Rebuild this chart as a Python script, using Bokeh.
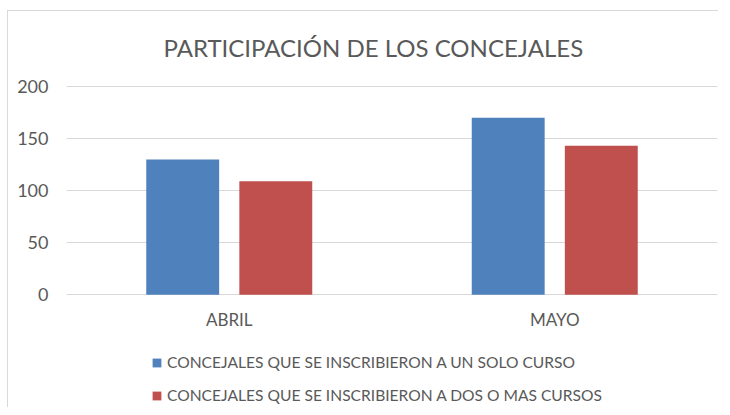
from bokeh.plotting import figure
from bokeh.models import FactorRange, Range1d, Legend, LegendItem
from bokeh.transform import dodge
from bokeh.embed import file_html
from bokeh.resources import INLINE

# ---- data ----
months = ["ABRIL", "MAYO"]
un_solo_curso = [130, 170]
dos_o_mas = [109, 143]
series_names = ["CONCEJALES QUE SE INSCRIBIERON A UN SOLO CURSO",
                "CONCEJALES QUE SE INSCRIBIERON A DOS O MAS CURSOS"]
title_text = "PARTICIPACIÓN DE LOS CONCEJALES"
y_ticks = [0, 50, 100, 150, 200]

FONT = "Lato"
TXT = "#595959"
GRID = "#D9D9D9"
BLUE = "#4F81BD"
RED = "#C0504D"

W, H = 722, 407
TOP, LEFT, RIGHT = 80, 66, 5
# pixel scale: 200 units over 208.3 px, zero line at 294.3 px from the top
px_per_unit = 208.3 / 200
y_top = (294.3 - TOP) / px_per_unit
y_bot = (294.3 - H) / px_per_unit

p = figure(x_range=FactorRange(*months, range_padding=0, factor_padding=0),
           y_range=Range1d(y_bot, y_top),
           width=W, height=H, output_backend="svg", toolbar_location=None,
           min_border_left=LEFT, min_border_right=RIGHT, min_border_top=TOP, min_border_bottom=0)

src = dict(m=months, a=un_solo_curso, b=dos_o_mas)
r1 = p.vbar(x=dodge("m", -0.143, range=p.x_range), top="a", bottom=0, width=0.224, source=src,
            fill_color=BLUE, line_color=None)
r2 = p.vbar(x=dodge("m", 0.143, range=p.x_range), top="b", bottom=0, width=0.224, source=src,
            fill_color=RED, line_color=None)

p.title.text = title_text
p.title.align = "left"
p.title.offset = 97
p.title.text_font = FONT
p.title.text_font_size = "24px"
p.title.text_font_style = "normal"
p.title.text_color = TXT
p.title.standoff = 38

p.outline_line_color = None
p.border_fill_color = None
p.background_fill_color = None
p.xgrid.grid_line_color = None
p.ygrid.grid_line_color = GRID
p.ygrid.grid_line_width = 1

p.yaxis.ticker = y_ticks
p.yaxis.axis_line_color = None
p.yaxis.major_tick_line_color = None
p.yaxis.minor_tick_line_color = None
p.yaxis.major_tick_out = 0
p.yaxis.major_label_standoff = 18
p.yaxis.major_label_text_font = FONT
p.yaxis.major_label_text_font_size = "18px"
p.yaxis.major_label_text_color = TXT

p.xaxis.fixed_location = 0
p.xaxis.axis_line_color = None
p.xaxis.major_tick_line_color = None
p.xaxis.minor_tick_line_color = None
p.xaxis.major_tick_out = 0
p.xaxis.major_label_standoff = 14
p.xaxis.major_label_text_font = FONT
p.xaxis.major_label_text_font_size = "17px"
p.xaxis.major_label_text_color = TXT

legend = Legend(items=[LegendItem(label=series_names[0], renderers=[r1]),
                       LegendItem(label=series_names[1], renderers=[r2])],
                location=(85, 3), orientation="vertical",
                glyph_width=11, glyph_height=11, label_standoff=5, spacing=15,
                label_height=18, padding=0, margin=0, border_line_color=None,
                background_fill_alpha=0,
                label_text_font=FONT, label_text_font_size="15.6px", label_text_color=TXT)
p.add_layout(legend)

# light gray chart-area border (left and top edges), drawn behind the transparent canvas
p.styles = {
    "background-color": "white",
    "background-image": "linear-gradient(#D9D9D9, #D9D9D9), linear-gradient(#D9D9D9, #D9D9D9)",
    "background-size": "1px 100%, 711px 1px",
    "background-position": "7px 10px, 7px 10px",
    "background-repeat": "no-repeat",
}

open("out.html", "w").write(file_html(p, INLINE))
